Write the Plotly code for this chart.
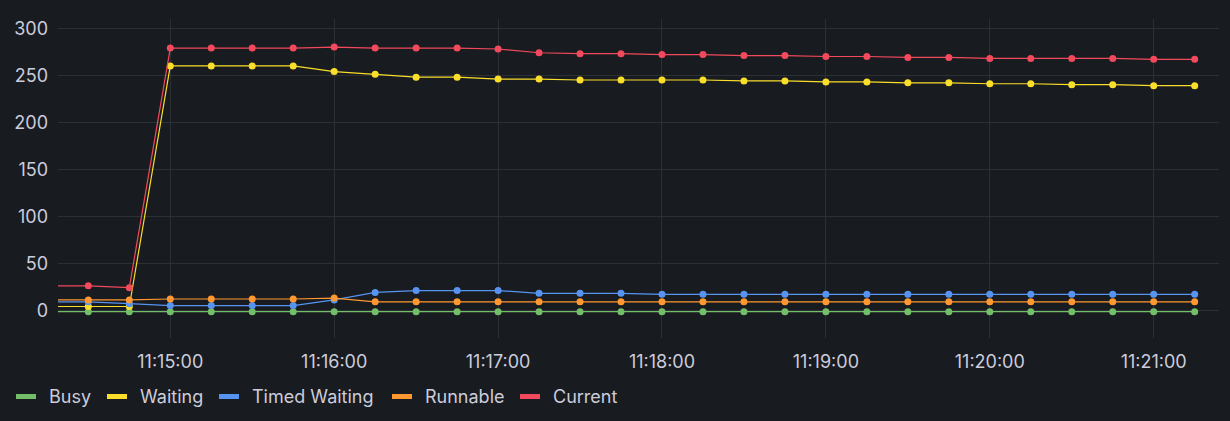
import plotly.graph_objects as go
import pandas as pd

# ---- data ----
times = pd.date_range("2024-01-01 11:14:15", "2024-01-01 11:21:15", freq="15s")

busy = [-1.5] * 29
waiting = [4, 4, 4, 260, 260, 260, 260, 254, 251, 248, 248, 246, 246, 245, 245, 245, 245,
           244, 244, 243, 243, 242, 242, 241, 241, 240, 240, 239, 239]
timed_waiting = [9, 9, 7, 5, 5, 5, 5, 11, 19, 21, 21, 21, 18, 18, 18, 17, 17,
                 17, 17, 17, 17, 17, 17, 17, 17, 17, 17, 17, 17]
runnable = [11, 11, 11, 12, 12, 12, 12, 13, 9, 9, 9, 9, 9, 9, 9, 9, 9,
            9, 9, 9, 9, 9, 9, 9, 9, 9, 9, 9, 9]
current = [26, 26, 24, 279, 279, 279, 279, 280, 279, 279, 279, 278, 274, 273, 273, 272, 272,
           271, 271, 270, 270, 269, 269, 268, 268, 268, 268, 267, 267]

series_names = ["Busy", "Waiting", "Timed Waiting", "Runnable", "Current"]
series_values = [busy, waiting, timed_waiting, runnable, current]
series_colors = ["#73BF69", "#FADE2A", "#5794F2", "#FF9830", "#F2495C"]
y_ticks = [0, 50, 100, 150, 200, 250, 300]

# ---- figure ----
BG = "#181b1f"
TXT = "rgb(204,204,220)"
GRID = "#2c2f34"
FS = 18
W, H = 1230, 421
ML, MR, MT, MB = 58, 11, 19, 83
PW, PH = W - ML - MR, H - MT - MB

fig = go.Figure()
for name, vals, col in zip(series_names, series_values, series_colors):
    fig.add_trace(go.Scatter(
        x=times, y=vals, name=name, mode="lines+markers",
        line=dict(color=col, width=1.2),
        marker=dict(color=col, size=7),
        showlegend=False,
    ))

# custom legend (Grafana style)
legend_swatch_x = [16, 107, 219, 392, 520]
legend_y_px = 396.5
shapes = []
annotations = []
for name, col, sx in zip(series_names, series_colors, legend_swatch_x):
    yp = ((MT + PH) - legend_y_px) / PH
    shapes.append(dict(type="line", xref="paper", yref="paper",
                       x0=(sx - ML) / PW, x1=(sx + 20 - ML) / PW, y0=yp, y1=yp,
                       line=dict(color=col, width=5)))
    annotations.append(dict(text=name, xref="paper", yref="paper",
                            x=(sx + 31 - ML) / PW, y=yp, xanchor="left", yanchor="middle",
                            showarrow=False, font=dict(family="Inter", size=FS, color=TXT)))

fig.update_layout(
    width=W, height=H,
    margin=dict(l=ML, r=MR, t=MT, b=MB),
    paper_bgcolor=BG, plot_bgcolor=BG,
    font=dict(family="Inter", size=FS, color=TXT),
    shapes=shapes, annotations=annotations,
    showlegend=False,
    hovermode="x",
)
fig.update_xaxes(
    type="date",
    range=["2024-01-01 11:14:18.9", "2024-01-01 11:21:23.9"],
    dtick=60000, tick0="2024-01-01 11:15:00", tickformat="%H:%M:%S",
    showgrid=True, gridcolor=GRID, gridwidth=1,
    zeroline=False, showline=False, ticks="",
    tickfont=dict(family="Inter", size=FS, color=TXT),
    ticklabelstandoff=11,
)
fig.update_yaxes(
    range=[-29.5, 309.9],
    tickvals=y_ticks,
    showgrid=True, gridcolor=GRID, gridwidth=1,
    zeroline=False, showline=False, ticks="",
    tickfont=dict(family="Inter", size=FS, color=TXT),
    ticklabelstandoff=9,
)

fig.write_html(
    "out.html",
    config={"displayModeBar": False},
    post_script="document.body.style.margin='0';document.body.style.background='#181b1f';",
)
